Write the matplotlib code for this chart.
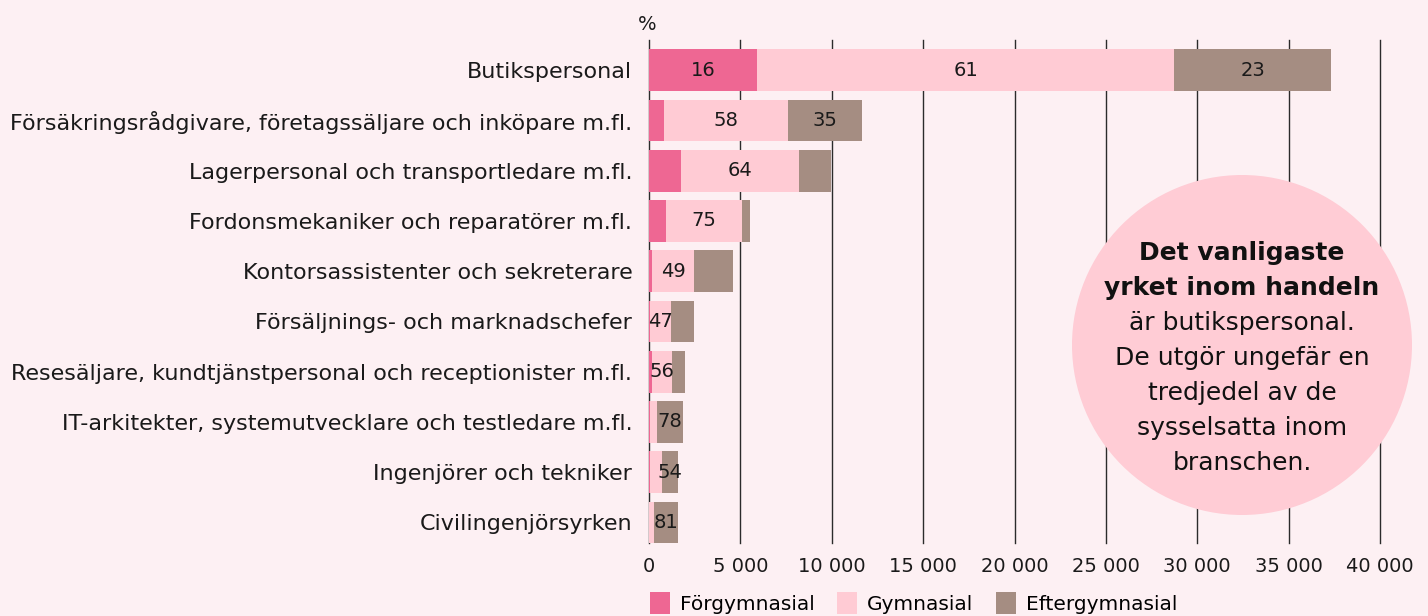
import matplotlib
matplotlib.use("Agg")
from matplotlib import pyplot as plt
from matplotlib.patches import Ellipse, Patch
import numpy as np

occupations = [
    "Butikspersonal",
    "Försäkringsrådgivare, företagssäljare och inköpare m.fl.",
    "Lagerpersonal och transportledare m.fl.",
    "Fordonsmekaniker och reparatörer m.fl.",
    "Kontorsassistenter och sekreterare",
    "Försäljnings- och marknadschefer",
    "Resesäljare, kundtjänstpersonal och receptionister m.fl.",
    "IT-arkitekter, systemutvecklare och testledare m.fl.",
    "Ingenjörer och tekniker",
    "Civilingenjörsyrken",
]
forgymnasial = [5900, 800, 1730, 930, 180, 60, 150, 30, 30, 20]
gymnasial = [22850, 6800, 6470, 4150, 2295, 1150, 1110, 390, 700, 270]
eftergymnasial = [8550, 4050, 1780, 440, 2145, 1240, 690, 1440, 870, 1280]

# procent som skrivs i staplarna (None = ingen etikett)
lbl_forgym = ["16", None, None, None, None, None, None, None, None, None]
lbl_gym = ["61", "58", "64", "75", "49", "47", "56", None, None, None]
lbl_efter = ["23", "35", None, None, None, None, None, "78", "54", "81"]

series_names = ["Förgymnasial", "Gymnasial", "Eftergymnasial"]
colors = ["#ee6793", "#ffcbd4", "#a58d82"]

xticks = [0, 5000, 10000, 15000, 20000, 25000, 30000, 35000, 40000]
xticklabels = ["0", "5 000", "10 000", "15 000", "20 000", "25 000", "30 000", "35 000", "40 000"]

bg = "#fdf0f3"
txtcol = "#1a1a1a"
W, H = 1428, 616
fig = plt.figure(figsize=(W / 100, H / 100), dpi=100, facecolor=bg)
ax = fig.add_axes([649 / W, 1 - 543 / H, (1380 - 649) / W, (543 - 40) / H])
ax.set_facecolor(bg)

y = np.arange(len(occupations))
left = np.zeros(len(occupations))
all_labels = [lbl_forgym, lbl_gym, lbl_efter]
for vals, col, labs in zip([forgymnasial, gymnasial, eftergymnasial], colors, all_labels):
    vals = np.array(vals, dtype=float)
    ax.barh(y, vals, left=left, height=0.83, color=col, zorder=3, linewidth=0)
    for i, t in enumerate(labs):
        if t is not None:
            ax.text(left[i] + vals[i] / 2, y[i], t, ha="center", va="center",
                    fontsize=14, color=txtcol, zorder=4)
    left += vals

for xv in xticks:
    ax.axvline(xv, color="#2b2b2b", lw=1.0, zorder=2, clip_on=False)

ax.set_xlim(0, 40000)
ax.set_ylim(9.41, -0.6)
ax.set_yticks(y, occupations, fontsize=16, color=txtcol)
ax.set_xticks(xticks, xticklabels, fontsize=14, color=txtcol)
ax.tick_params(axis="y", length=0, pad=12)
ax.tick_params(axis="x", length=0, pad=10)
for s in ax.spines.values():
    s.set_visible(False)

fig.text(647 / W, 1 - 25 / H, "%", ha="center", va="center", fontsize=14, color=txtcol)

# cirkel med kommentar
circ = Ellipse((1242 / W, 1 - 345 / H), 340 / W, 340 / H, transform=fig.transFigure,
               facecolor="#ffccd5", edgecolor="none", zorder=10, clip_on=False)
ax.add_patch(circ)
lines = [
    ("Det vanligaste", "bold"),
    ("yrket inom handeln", "bold"),
    ("är butikspersonal.", "normal"),
    ("De utgör ungefär en", "normal"),
    ("tredjedel av de", "normal"),
    ("sysselsatta inom", "normal"),
    ("branschen.", "normal"),
]
for k, (txt, w) in enumerate(lines):
    fig.text(1242 / W, 1 - (253 + 35 * k) / H, txt, ha="center", va="center",
             fontsize=18, fontweight=w, color="#111111", zorder=11)

handles = [Patch(facecolor=c, edgecolor="none") for c in colors]
fig.legend(handles, series_names, loc="upper left", bbox_to_anchor=(650 / W, 1 - 592 / H),
           ncol=3, frameon=False, borderaxespad=0, borderpad=0, fontsize=14.5,
           handlelength=1.0, handleheight=1.3, handletextpad=0.5, columnspacing=1.1)

fig.savefig("out.png", dpi=100, facecolor=bg)
